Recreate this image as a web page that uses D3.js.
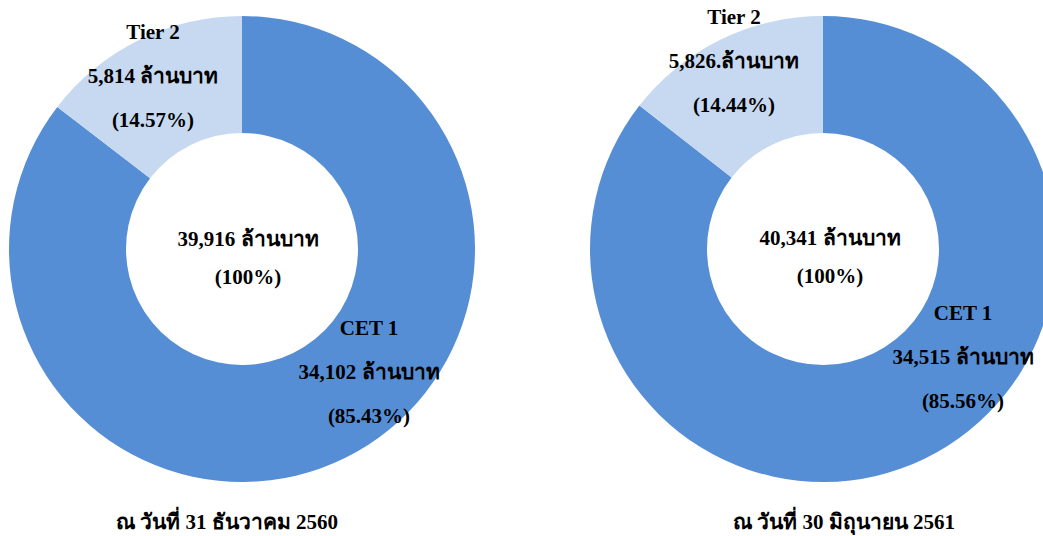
<!DOCTYPE html>
<html>
<head>
<meta charset="utf-8">
<script src="https://cdn.jsdelivr.net/npm/d3@7"></script>
<style>
  html, body { margin: 0; padding: 0; background: #fff; overflow: hidden; }
  svg { display: block; }
  text { font-family: "Liberation Serif", "Times New Roman", serif; font-weight: bold; fill: #000; }
</style>
</head>
<body>
<svg id="chart" width="1043" height="536"></svg>
<script>
// ---- data ----
const dates = ["ณ วันที่ 31 ธันวาคม 2560", "ณ วันที่ 30 มิถุนายน 2561"];
const categories = ["CET 1", "Tier 2"];
const cet1Values = [34102, 34515];
const tier2Values = [5814, 5826];
const totalValues = [39916, 40341];
const tier2Suffix = [" ล้านบาท", ".ล้านบาท"];
const unit = " ล้านบาท";

// ---- layout ----
const W = 1043, H = 536;
const colors = ["#558ED5", "#C6D9F1"];
const centers = [{x: 242, y: 249}, {x: 823, y: 249}];
const outerR = 233, innerR = 116;
const lineGap = 44;
const fontSize = 21;
// label anchor offsets relative to donut centre (x centre, first baseline)
const labelPos = [
  [{dx: 127, dy: 86}, {dx: -89, dy: -210}],
  [{dx: 140, dy: 71}, {dx: -89, dy: -225}]
];
const centerTextPos = [{dx: 6, dy: 246}, {dx: 7, dy: 245}];
const titlePos = [{dx: -15}, {dx: 21}];
const titleBaseline = 529;

const svg = d3.select("#chart");
const fmt = d3.format(",");
const pct = d3.format(".2%");

const pie = d3.pie().sort(null).startAngle(0).endAngle(2 * Math.PI);
const arc = d3.arc().innerRadius(innerR).outerRadius(outerR);
const color = d3.scaleOrdinal().domain(categories).range(colors);

dates.forEach((date, i) => {
  const vals = [cet1Values[i], tier2Values[i]];
  const total = totalValues[i];
  const data = categories.map((c, k) => ({cat: c, value: vals[k]}));
  const g = svg.append("g").attr("transform", `translate(${centers[i].x},${centers[i].y})`);

  g.selectAll("path.slice")
    .data(pie.value(d => d.value)(data))
    .join("path")
    .attr("class", "slice")
    .attr("d", arc)
    .attr("fill", d => color(d.data.cat));

  // slice labels
  data.forEach((d, k) => {
    const p = labelPos[i][k];
    const lines = [
      d.cat,
      fmt(d.value) + (k === 1 ? tier2Suffix[i] : unit),
      "(" + pct(d.value / total) + ")"
    ];
    const t = g.append("text")
      .attr("text-anchor", "middle")
      .attr("font-size", fontSize);
    lines.forEach((ln, j) => {
      t.append("tspan")
        .attr("x", p.dx)
        .attr("y", p.dy + j * lineGap)
        .text(ln);
    });
  });

  // centre total
  const ct = svg.append("text")
    .attr("text-anchor", "middle")
    .attr("font-size", fontSize);
  ct.append("tspan")
    .attr("x", centers[i].x + centerTextPos[i].dx)
    .attr("y", centerTextPos[i].dy)
    .text(fmt(total) + unit);
  ct.append("tspan")
    .attr("x", centers[i].x + centerTextPos[i].dx)
    .attr("y", centerTextPos[i].dy + 38)
    .text("(100%)");

  // date title
  svg.append("text")
    .attr("x", centers[i].x + titlePos[i].dx)
    .attr("y", titleBaseline)
    .attr("text-anchor", "middle")
    .attr("font-size", fontSize)
    .text(date);
});
</script>
</body>
</html>
